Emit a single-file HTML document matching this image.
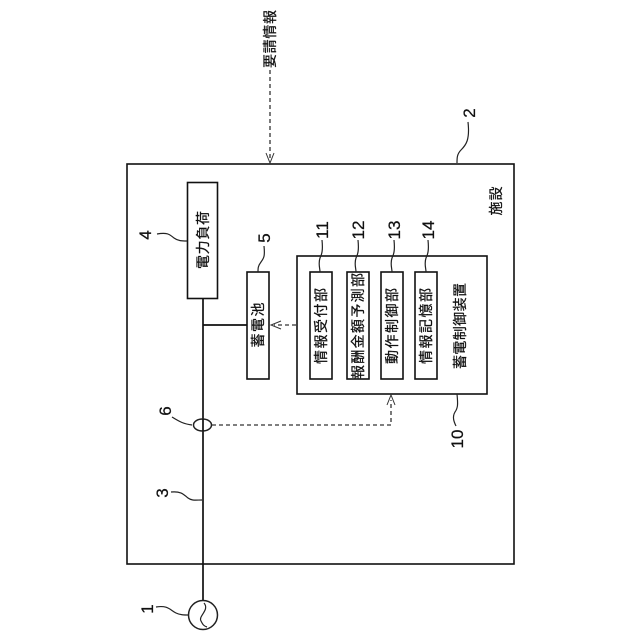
<!DOCTYPE html>
<html><head><meta charset="utf-8"><style>
html,body{margin:0;padding:0;background:#fff}
svg{display:block}
text{font-family:"Liberation Sans","Noto Sans CJK JP",sans-serif;fill:#111;text-anchor:middle;stroke:#111;stroke-width:.25}
.j{font-size:14px}
.n{font-size:17px}
.b{fill:#fff;stroke:#111;stroke-width:1.6}
.l{fill:none;stroke:#222;stroke-width:1.2}
.m{fill:none;stroke:#111;stroke-width:1.7}
.d{fill:none;stroke:#333;stroke-width:1.3;stroke-dasharray:4 3}
.a{fill:none;stroke:#333;stroke-width:1}
</style></head><body>
<svg width="640" height="640" viewBox="0 0 640 640" xmlns="http://www.w3.org/2000/svg">
<rect width="640" height="640" fill="#fff"/>
<rect class="b" x="127" y="164" width="387" height="400"/>
<path class="m" d="M203 298V600M203 325H247"/>
<rect class="b" x="187.500" y="182.500" width="30" height="116"/>
<rect class="b" x="247" y="272" width="22" height="107"/>
<rect class="b" x="297" y="256" width="190" height="138"/>
<rect class="b" x="310" y="272" width="22" height="107"/>
<rect class="b" x="347" y="272" width="22" height="107"/>
<rect class="b" x="381" y="272" width="22" height="107"/>
<rect class="b" x="415" y="272" width="22" height="107"/>
<ellipse cx="202.500" cy="425" rx="9" ry="6" fill="#fff" stroke="#222" stroke-width="1.5"/>
<path class="m" d="M203 419V431"/>
<circle cx="203" cy="615" r="14.500" fill="#fff" stroke="#222" stroke-width="1.5"/>
<path class="l" d="M204 603C210 610 198 616 201 621C203 625 204 626 207 627"/>
<path class="d" d="M270 70V160"/>
<path class="a" d="M266 153L270 163L274 153"/>
<path class="d" d="M296 325H274"/>
<path class="a" d="M281 321L271 325L281 329"/>
<path class="d" d="M212 425H391V400"/>
<path class="a" d="M387 405L391 395L395 405"/>
<path class="l" d="M468 122C470 140 466 145 461 150C457 154 457 158 457 163"/>
<path class="l" d="M322 240C323 250 322 254 320 258C318 264 320 268 320 272"/>
<path class="l" d="M358 240C359 250 358 254 356 258C354 264 356 268 356 272"/>
<path class="l" d="M394 240C395 250 394 254 392 258C390 264 392 268 392 272"/>
<path class="l" d="M428 240C429 250 428 254 426 258C424 264 426 268 426 272"/>
<path class="l" d="M264 246C265 256 264 258 261 262C258 266 258 268 258 272"/>
<path class="l" d="M157 234C168 232 170 235 174 238C178 241 182 241 187 241"/>
<path class="l" d="M457 394C458 404 458 408 455 412C452 417 454 422 456 426"/>
<path class="l" d="M172 417C180 422 184 424 192 425"/>
<path class="l" d="M171 492C182 491 184 495 188 498C192 501 196 500 202 500"/>
<path class="l" d="M156 607C168 605 170 610 176 613C180 615 184 615 189 615"/>

<text class="j" transform="translate(275,39) rotate(-90)" textLength="58" lengthAdjust="spacing">要請情報</text>
<text class="j" transform="translate(208,240) rotate(-90)" textLength="58" lengthAdjust="spacing">電力負荷</text>
<text class="j" transform="translate(263,325) rotate(-90)" textLength="45" lengthAdjust="spacing">蓄電池</text>
<text class="j" transform="translate(326,326) rotate(-90)" textLength="76" lengthAdjust="spacing">情報受付部</text>
<text class="j" transform="translate(363,326) rotate(-90)" textLength="106" lengthAdjust="spacing">報酬金額予測部</text>
<text class="j" transform="translate(397,326) rotate(-90)" textLength="76" lengthAdjust="spacing">動作制御部</text>
<text class="j" transform="translate(431,326) rotate(-90)" textLength="76" lengthAdjust="spacing">情報記憶部</text>
<text class="j" transform="translate(465,326) rotate(-90)" textLength="86" lengthAdjust="spacing">蓄電制御装置</text>
<text class="j" transform="translate(501,201) rotate(-90)" textLength="29" lengthAdjust="spacing">施設</text>

<text class="n" transform="translate(328,230) rotate(-90)">11</text>
<text class="n" transform="translate(364,230) rotate(-90)">12</text>
<text class="n" transform="translate(400,230) rotate(-90)">13</text>
<text class="n" transform="translate(434,230) rotate(-90)">14</text>
<text class="n" transform="translate(270,238) rotate(-90)">5</text>
<text class="n" transform="translate(151,235) rotate(-90)">4</text>
<text class="n" transform="translate(475,113) rotate(-90)">2</text>
<text class="n" transform="translate(463,439) rotate(-90)">10</text>
<text class="n" transform="translate(171,411) rotate(-90)">6</text>
<text class="n" transform="translate(168,493) rotate(-90)">3</text>
<text class="n" transform="translate(153,609) rotate(-90)">1</text>
</svg>
</body></html>
